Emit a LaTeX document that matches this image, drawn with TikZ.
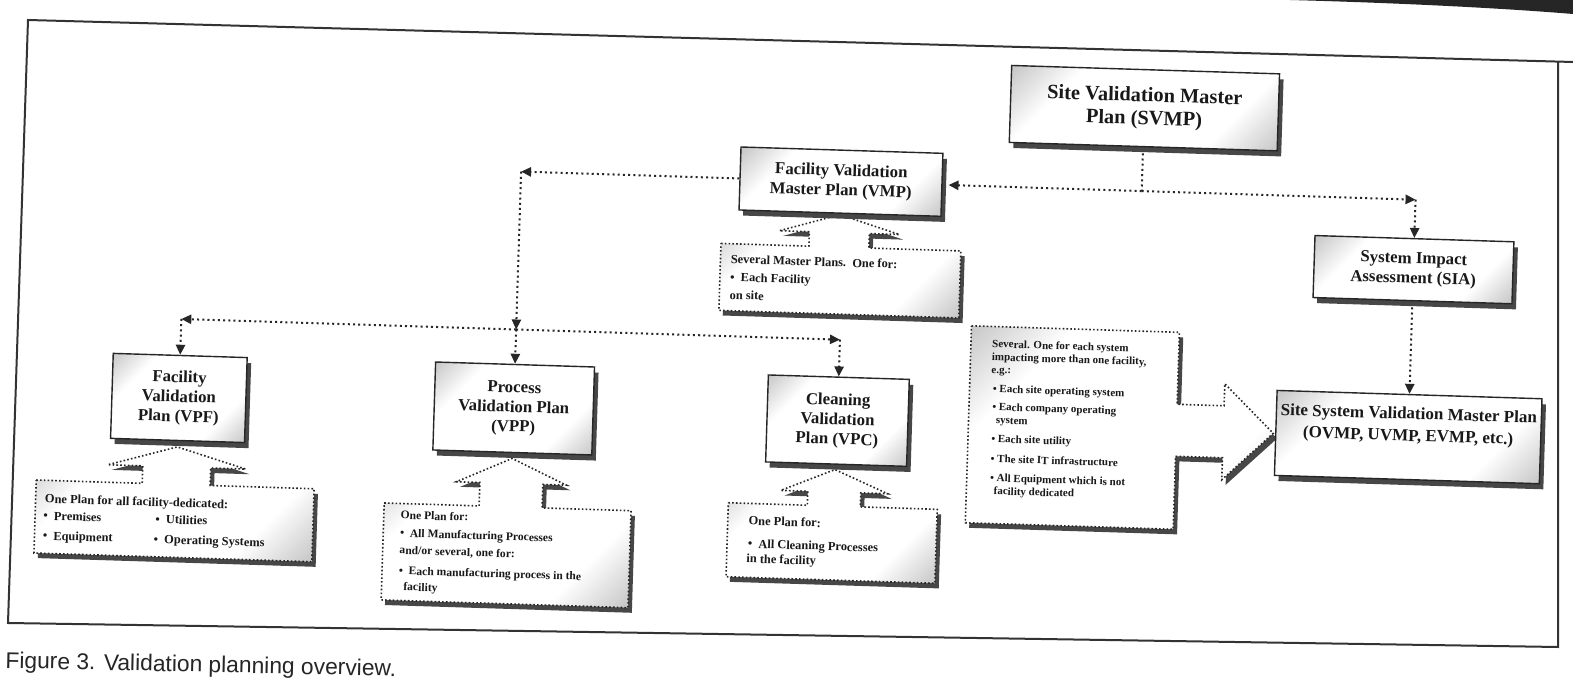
\documentclass[tikz,border=0pt]{standalone}
\usepackage{fontspec}
\setmainfont{Liberation Serif}
\newfontfamily\capfont{Liberation Sans}
\usetikzlibrary{arrows.meta,shadows}
\pgfdeclarehorizontalshading{cornerfade}{100bp}{color(0bp)=(black!45); color(30bp)=(white); color(70bp)=(white); color(100bp)=(black!45)}
\newcommand\upcall[9]{%
  \fill[shadowfill,shift={(4,5)}] (#1,#3) -- ({#5-#6},#3) -- ({#5-#6},#8) -- ({#5-#7},#8) -- (#5,#9) -- ({#5+#7},#8) -- ({#5+#6},#8) -- ({#5+#6},#3) -- (#2,#3) -- (#2,#4) -- (#1,#4) -- cycle;
  \path[callout] (#1,#3) -- ({#5-#6},#3) -- ({#5-#6},#8) -- ({#5-#7},#8) -- (#5,#9) -- ({#5+#7},#8) -- ({#5+#6},#8) -- ({#5+#6},#3) -- (#2,#3) -- (#2,#4) -- (#1,#4) -- cycle;}
\begin{document}
\begin{tikzpicture}[x=0.5pt,y=-0.5pt,
  shadowfill/.style={fill=black!72},
  callout/.style={shade, shading=cornerfade, shading angle=-45, draw=black!85, line width=0.8pt, dash pattern=on 0.8pt off 1.1pt},
  conn/.style={draw=black!85, line width=1pt, dash pattern=on 1pt off 1.6pt, -{Triangle[length=5pt,width=4.6pt]}},
  plainconn/.style={draw=black!85, line width=1pt, dash pattern=on 1pt off 1.6pt},
  box/.style={draw=black!85, line width=0.7pt, shade, shading=cornerfade, shading angle=-45,
    drop shadow={shadow xshift=2pt, shadow yshift=-2.8pt, opacity=1, fill=black!72},
    align=center, inner sep=0pt, text=black!90, font=\bfseries\fontsize{8.4}{9.8}\selectfont},
  note/.style={anchor=base west, inner sep=0pt, text=black!90, font=\bfseries\fontsize{6.2}{7}\selectfont},
  notesm/.style={note, font=\bfseries\fontsize{5.8}{8}\selectfont},
  notexs/.style={note, font=\bfseries\fontsize{5.5}{7}\selectfont},
  frame/.style={draw=black!80, line width=1pt}
]
\useasboundingbox (0,0) rectangle (1573,678);
\fill[white] (0,0) rectangle (1573,678);
% scan edge and frame
\fill[black!85] (1290,0) -- (1573,0) -- (1573,14) .. controls (1500,8) and (1400,3) .. (1290,0) -- cycle;
\draw[frame] (1573,62) -- (28,20) -- (8,623) -- (1558,647) -- (1558,61.6);
\node[anchor=base west, inner sep=0pt, rotate=-1.2, text=black!85, font=\capfont\fontsize{11.4}{13}\selectfont] (cap) at (5,668) {Figure 3. Validation planning overview.};

\begin{scope}[rotate around={-1.8:(786,339)}, transform shape]
% callouts
\upcall{718}{958}{245.5}{312.5}{836}{30}{60}{231}{213}
\upcall{41}{319}{503.5}{576.5}{181}{34}{69}{486}{466}
\upcall{389.5}{636.5}{515.5}{612.5}{516}{31.5}{55}{492}{467}
\upcall{733.5}{942.5}{504.5}{578.5}{839}{26.5}{53.5}{490.5}{468}
\fill[shadowfill,shift={(4,5)}] (971,320) -- (1179,320) -- (1179,392) -- (1226,392) -- (1226,370) -- (1276,418) -- (1226,466) -- (1226,444) -- (1179,444) -- (1179,517) -- (971,517) -- cycle;
\path[callout] (971,320) -- (1179,320) -- (1179,392) -- (1226,392) -- (1226,370) -- (1276,418) -- (1226,466) -- (1226,444) -- (1179,444) -- (1179,517) -- (971,517) -- cycle;

% boxes
\node[box, minimum width=134pt, minimum height=38.5pt, font=\bfseries\fontsize{10.2}{11.5}\selectfont] (svmp) at (1137,97) {Site Validation Master\\Plan (SVMP)};
\node[box, minimum width=101pt, minimum height=31.5pt] (vmp) at (836,180) {Facility Validation\\Master Plan (VMP)};
\node[box, minimum width=99.5pt, minimum height=31pt] (sia) at (1411,250) {System Impact\\Assessment (SIA)};
\node[box, minimum width=67pt, minimum height=42.5pt] (vpf) at (181,417) {Facility\\Validation\\Plan (VPF)};
\node[box, minimum width=79.5pt, minimum height=44pt] (vpp) at (516,417) {Process\\Validation Plan\\(VPP)};
\node[box, minimum width=70.5pt, minimum height=43.5pt] (vpc) at (840,419) {Cleaning\\Validation\\Plan (VPC)};
\node[box, minimum width=132.5pt, minimum height=42.5pt] (ssvmp) at (1411,417.5) {};
\node[anchor=north, align=center, inner sep=0pt, text=black!90, font=\bfseries\fontsize{8.5}{11}\selectfont] (ssvmpt) at ([yshift=-6.5pt]ssvmp.north) {Site System Validation Master Plan\\(OVMP, UVMP, EVMP, etc.)};

% connectors
\coordinate (j1) at (1137,180);
\coordinate (cr) at (1411,180);
\coordinate (cl) at (516,180);
\coordinate (j2) at (516,338);
\coordinate (cll) at (181,338);
\coordinate (clr) at (840,338);
\draw[plainconn] ([yshift=-3pt]svmp.south) -- (j1);
\draw[conn] (j1) -- ([xshift=3pt]vmp.east);
\draw[conn] (j1) -- (cr);
\draw[conn] (cr) -- (sia.north);
\draw[conn] ([yshift=-3pt]sia.south) -- (ssvmp.north);
\draw[conn] (vmp.west) -- (cl);
\draw[conn] (cl) -- (j2);
\draw[conn] (j2) -- (vpp.north);
\draw[conn] (j2) -- (cll);
\draw[conn] (cll) -- (vpf.north);
\draw[conn] (j2) -- (clr);
\draw[conn] (clr) -- (vpc.north);

% note texts
\node[note] (nA1) at (728,265) {Several Master Plans.\ \ One for:};
\node[note] (nA2) at (728,283) {•\ \ Each Facility};
\node[note] (nA3) at (728,301) {on site};

\node[note] (nB1) at (50,526) {One Plan for all facility-dedicated:};
\node[note] (nB2) at (49,543) {•\ \ Premises};
\node[note] (nB3) at (161,543) {•\ \ Utilities};
\node[note] (nB4) at (49,563) {•\ \ Equipment};
\node[note] (nB5) at (160,563) {•\ \ Operating Systems};

\node[notesm] (nC1) at (406,531) {One Plan for:};
\node[notesm] (nC2) at (406,549) {•\ \ All Manufacturing Processes};
\node[notesm] (nC3) at (406,566) {and/or several, one for:};
\node[notesm, anchor=north west, align=left] (nC4) at (406,578) {•\ \ Each manufacturing process in the\\\hspace*{2.5pt}facility};

\node[note] (nD1) at (754,526) {One Plan for:};
\node[note] (nD2) at (754,549) {•\ \ All Cleaning Processes};
\node[note] (nD3) at (753,564) {in the facility};

\node[notexs] (nE1) at (992,341) {Several. One for each system};
\node[notexs] (nE2) at (992,354) {impacting more than one facility,};
\node[notexs] (nE3) at (992,367) {e.g.:};
\node[notexs] (nE4) at (994,386) {• Each site operating system};
\node[notexs] (nE5) at (994,404) {• Each company operating};
\node[notexs] (nE6) at (998,417) {system};
\node[notexs] (nE7) at (994,436) {• Each site utility};
\node[notexs] (nE8) at (994,456) {• The site IT infrastructure};
\node[notexs] (nE9) at (994,475) {• All Equipment which is not};
\node[notexs] (nE10) at (998,488) {facility dedicated};
\end{scope}
\end{tikzpicture}
\end{document}
